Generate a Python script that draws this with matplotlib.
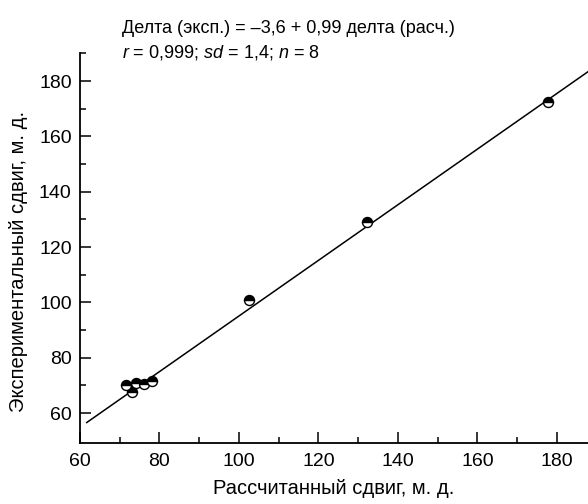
import matplotlib
matplotlib.use("Agg")
import matplotlib.pyplot as plt
from matplotlib.ticker import MultipleLocator, FixedLocator

plt.rcParams['font.family'] = ['Liberation Sans', 'DejaVu Sans']
plt.rcParams['mathtext.fontset'] = 'custom'
plt.rcParams['mathtext.rm'] = 'Liberation Sans'
plt.rcParams['mathtext.it'] = 'Liberation Sans:italic'

# data
calc_shift = [177.7, 132.1, 102.6, 71.6, 73.0, 74.1, 76.0, 78.2]
exp_shift = [172.5, 129.1, 100.8, 70.1, 67.6, 70.8, 70.5, 71.6]
fit_x = [61.7, 188.5]
fit_y = [56.6, 184.1]
x_ticks = [60, 80, 100, 120, 140, 160, 180]
y_ticks = [60, 80, 100, 120, 140, 160, 180]

fig = plt.figure(figsize=(5.88, 5.04), dpi=100)
ax = fig.add_axes([0.136, 0.121, 0.864, 0.773])

ax.plot(fit_x, fit_y, color='black', lw=1.1, zorder=2)
ax.plot(calc_shift, exp_shift, linestyle='none', marker='o', markersize=7.2,
        fillstyle='top', markerfacecolor='black', markerfacecoloralt='white',
        markeredgecolor='black', markeredgewidth=1.0, zorder=3)

ax.set_xlim(60, 187.8)
ax.set_ylim(49.2, 190)
ax.set_xticks(x_ticks)
ax.set_yticks(y_ticks)
ax.xaxis.set_minor_locator(MultipleLocator(10))
ax.yaxis.set_minor_locator(FixedLocator([t + 10 for t in y_ticks]))
ax.tick_params(which='major', direction='in', length=8, width=1.1, labelsize=14)
ax.tick_params(axis='x', which='major', pad=7)
ax.tick_params(axis='y', which='major', pad=6)
ax.tick_params(which='minor', direction='in', length=4.5, width=1.1)
for s in ['top', 'right']:
    ax.spines[s].set_visible(False)
for s in ['left', 'bottom']:
    ax.spines[s].set_linewidth(1.3)

ax.set_xlabel('Рассчитанный сдвиг, м. д.', fontsize=14.5)
ax.set_ylabel('Экспериментальный сдвиг, м. д.', fontsize=14.5)
ax.xaxis.set_label_coords(0.5, -0.093)
ax.yaxis.set_label_coords(-0.102, 0.465)

fig.text(0.207, 0.9345, 'Делта (эксп.) = –3,6 + 0,99 делта (расч.)', fontsize=13,
         va='baseline')
fig.text(0.207, 0.885, '$r$ = 0,999; $sd$ = 1,4; $n$ = 8', fontsize=13,
         va='baseline')

fig.savefig('out.png', dpi=100)
